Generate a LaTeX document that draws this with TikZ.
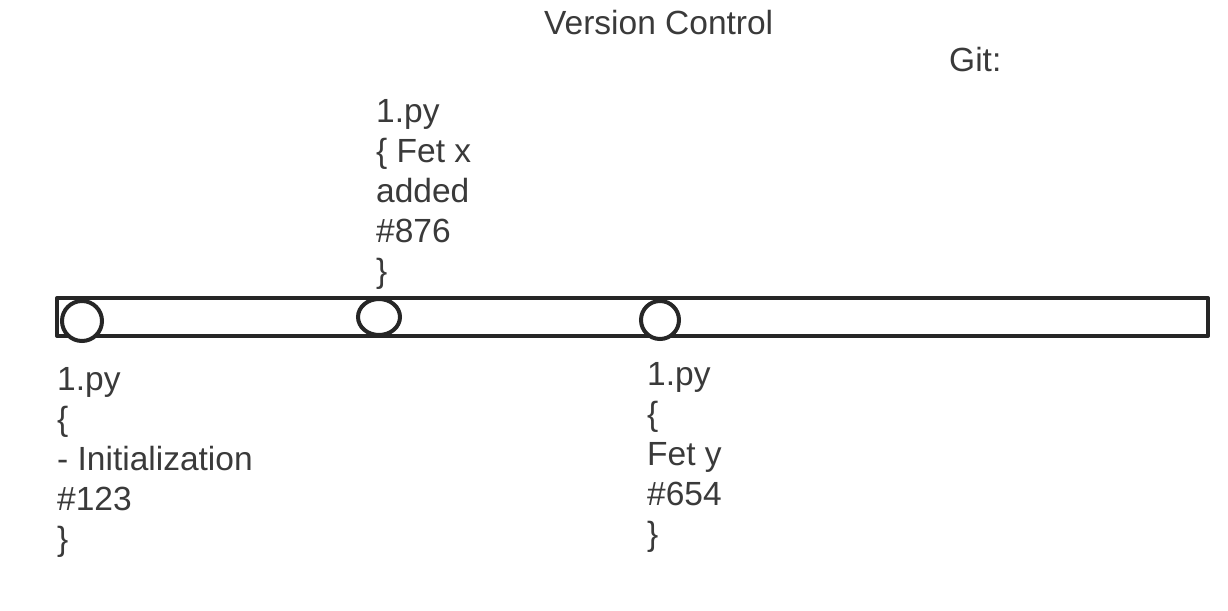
\documentclass[tikz,border=0pt]{standalone}
\usepackage{fontspec}
\setmainfont{Liberation Sans}
\definecolor{txt}{HTML}{3A3A3A}
\definecolor{ink}{HTML}{262626}
\tikzset{
  lbl/.style={anchor=north west, inner sep=0pt, align=left, text=txt,
    font=\fontsize{33.5}{40}\selectfont},
  title/.style={anchor=north west, inner sep=0pt, text=txt,
    font=\fontsize{33.5}{40}\selectfont},
  track/.style={draw=ink, line width=4pt, line join=round},
  commit/.style={draw=ink, line width=4pt, fill=white}
}
\begin{document}
\begin{tikzpicture}[x=1pt,y=-1pt]
\useasboundingbox (0,0) rectangle (1228,610);
\fill[white] (0,0) rectangle (1228,610);
\node[title] (vc) at (544,10) {Version Control};
\node[title] (git) at (949,47) {Git:};
\draw[track] (57,298) rectangle (1208,336);
\draw[commit] (82,321) ellipse [x radius=20, y radius=20];
\draw[commit] (379,317) ellipse [x radius=21, y radius=18];
\draw[commit] (660,320) ellipse [x radius=19, y radius=19];
\node (c1) at (82,321) {};
\node (c2) at (379,317) {};
\node (c3) at (660,320) {};
\node[lbl] (top) at (376,99) {1.py\\\{ Fet x\\added\\\#876\\\}};
\node[lbl] (bl) at (57,367) {1.py\\\{\\- Initialization\\\#123\\\}};
\node[lbl] (br) at (647,362) {1.py\\\{\\Fet y\\\#654\\\}};
\end{tikzpicture}
\end{document}
